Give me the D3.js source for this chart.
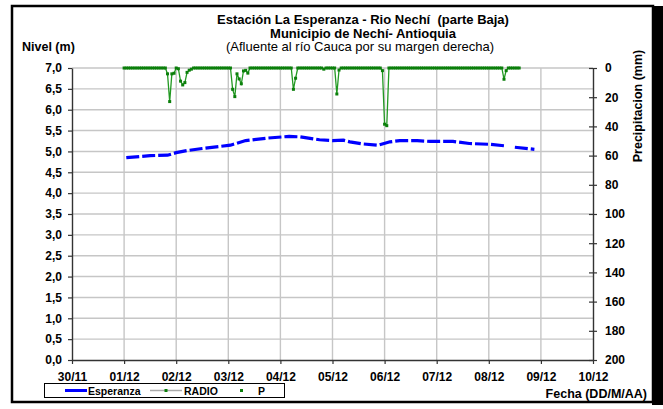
<!DOCTYPE html>
<html>
<head>
<meta charset="utf-8">
<script src="https://cdn.jsdelivr.net/npm/d3@7"></script>
<style>
  body { margin: 0; background: #fff; }
  svg text { font-family: "Liberation Sans", Arial, sans-serif; fill: #000; white-space: pre; }
</style>
</head>
<body>
<svg id="chart" width="663" height="409"></svg>
<script>
// hours are counted from 30/11 00:00
const dayLabels = ['30/11', '01/12', '02/12', '03/12', '04/12', '05/12', '06/12', '07/12', '08/12', '09/12', '10/12'];

// nivel Esperanza (m); null = hueco en la serie
const nivelHoras = [25, 36, 44, 48, 53, 60, 73, 80, 90, 100, 105, 114, 120, 125, 128, 134, 141, 146.5, 151, 159, 165, 175.5, 183, 192.5, 200, 202, 204, 213];
const nivelM = [4.85, 4.90, 4.91, 4.97, 5.02, 5.07, 5.15, 5.26, 5.32, 5.36, 5.35, 5.28, 5.26, 5.27, 5.23, 5.18, 5.15, 5.23, 5.26, 5.26, 5.24, 5.24, 5.19, 5.17, 5.13, null, 5.10, 5.05];

// precipitacion RADIO (mm), un valor por hora desde 01/12 00:00
const radioInicio = 24;
const radioMm = [
  0, 0, 0, 0, 0, 0, 0, 0, 0, 0, 0, 0, 0, 0, 0, 0, 0, 0, 0, 0, 4, 23, 4, 3.6,      // 01/12
  0, 0.5, 9, 11.6, 10, 3, 1.5, 0.8, 0, 0, 0, 0, 0, 0, 0, 0, 0, 0, 0, 0, 0, 0, 0, 0, // 02/12
  0, 0, 14.6, 19.6, 4, 7.5, 10.8, 2, 1.6, 3.5, 0, 0, 0, 0, 0, 0, 0, 0, 0, 0, 0, 0, 0, 0, // 03/12
  0, 0, 0, 0, 0, 0, 14.6, 7, 0, 0, 0, 0, 0, 0, 0, 0, 0, 0, 0, 0, 0.8, 0, 0, 0,    // 04/12
  0, 0, 17.8, 1.4, 0, 0, 0, 0, 0, 0, 0, 0, 0, 0, 0, 0, 0, 0, 0, 0, 0, 0, 0, 1.8,  // 05/12
  38.5, 39.5, 0, 0, 0, 0, 0, 0, 0, 0, 0, 0, 0, 0, 0, 0, 0, 0, 0, 0, 0, 0, 0, 0,   // 06/12
  0, 0, 0, 0, 0, 0, 0, 0, 0, 0, 0, 0, 0, 0, 0, 0, 0, 0, 0, 0, 0, 0, 0, 0,         // 07/12
  0, 0, 0, 0, 0, 0, 0, 7.7, 1.8, 0, 0, 0, 0, 0, 0                                 // 08/12
];

const nivelTicks = d3.range(0, 7.01, 0.5);
const precTicks = d3.range(0, 201, 20);

const svg = d3.select('#chart');

// marco con sombra
svg.append('rect').attr('x', 652).attr('y', 6).attr('width', 11).attr('height', 399).attr('fill', '#000');
svg.append('rect').attr('x', 12).attr('y', 6).attr('width', 641).attr('height', 396)
  .attr('fill', '#fff').attr('stroke', '#000').attr('stroke-width', 2.5);

const x = d3.scaleLinear().domain([0, 240]).range([72, 593]);
const yL = d3.scaleLinear().domain([0, 7]).range([360, 68]);
const yR = d3.scaleLinear().domain([0, 200]).range([68, 360]);

// grid
svg.append('g').selectAll('line').data(nivelTicks.slice(1)).enter().append('line')
  .attr('x1', 72).attr('x2', 593).attr('y1', d => yL(d)).attr('y2', d => yL(d))
  .attr('stroke', '#c6c6c6').attr('stroke-width', 1.4);
svg.append('g').selectAll('line').data(d3.range(1, 10)).enter().append('line')
  .attr('x1', d => x(d * 24)).attr('x2', d => x(d * 24)).attr('y1', 68).attr('y2', 360)
  .attr('stroke', '#c6c6c6').attr('stroke-width', 1.4);

// axes
const fmt = d => d3.format('.1f')(d).replace('.', ',');
const gL = svg.append('g').attr('transform', 'translate(72,0)')
  .call(d3.axisLeft(yL).tickValues(nivelTicks).tickFormat(fmt).tickSize(4).tickSizeOuter(0).tickPadding(6));
const gR = svg.append('g').attr('transform', 'translate(593,0)')
  .call(d3.axisRight(yR).tickValues(precTicks).tickSize(4).tickSizeOuter(0).tickPadding(8));
gR.selectAll('.tick line').attr('x1', -4).attr('x2', 4);
const gB = svg.append('g').attr('transform', 'translate(0,360)')
  .call(d3.axisBottom(x).tickValues(d3.range(0, 241, 24)).tickFormat((d, i) => dayLabels[i])
    .tickSize(4).tickSizeOuter(0).tickPadding(8));
[gL, gR, gB].forEach(g => {
  g.select('.domain').attr('stroke', '#333').attr('stroke-width', 1.4);
  g.selectAll('.tick line').attr('stroke', '#333').attr('stroke-width', 1.2);
  g.selectAll('text').attr('font-size', 12).attr('font-weight', 'bold')
    .attr('font-family', '"Liberation Sans", Arial, sans-serif').attr('fill', '#000');
});

// serie nivel
const nivelData = nivelHoras.map((h, i) => ({ h, v: nivelM[i] }));
svg.append('path').datum(nivelData)
  .attr('fill', 'none').attr('stroke', '#0000ff').attr('stroke-width', 3.2)
  .attr('stroke-dasharray', '13,3')
  .attr('d', d3.line().defined(d => d.v !== null).x(d => x(d.h)).y(d => yL(d.v)));

// serie RADIO
const radioData = radioMm.map((v, i) => ({ h: radioInicio + i, v }));
svg.append('path').datum(radioData)
  .attr('fill', 'none').attr('stroke', '#229922').attr('stroke-width', 1.3)
  .attr('d', d3.line().x(d => x(d.h)).y(d => yR(d.v)));
svg.append('g').selectAll('rect').data(radioData).enter().append('rect')
  .attr('x', d => x(d.h) - 1.5).attr('y', d => yR(d.v) - 1.5)
  .attr('width', 3).attr('height', 3).attr('fill', '#0b7f0b');

// titulos
const title = svg.append('g');
title.append('text').attr('x', 363).attr('y', 24).attr('text-anchor', 'middle')
  .attr('font-size', 13).attr('font-weight', 'bold').text('Estación La Esperanza - Rio Nechí  (parte Baja)');
title.append('text').attr('x', 363).attr('y', 37.5).attr('text-anchor', 'middle')
  .attr('font-size', 13).attr('font-weight', 'bold').text('Municipio de Nechí- Antioquia');
title.append('text').attr('x', 360).attr('y', 51).attr('text-anchor', 'middle')
  .attr('font-size', 13).text('(Afluente al río Cauca por su margen derecha)');
svg.append('text').attr('x', 22).attr('y', 51).attr('font-size', 12.5).attr('font-weight', 'bold').text('Nivel (m)');
svg.append('text').attr('transform', 'translate(642,106) rotate(-90)').attr('text-anchor', 'middle')
  .attr('font-size', 12.5).attr('font-weight', 'bold').text('Precipitacion (mm)');
svg.append('text').attr('x', 647).attr('y', 398).attr('text-anchor', 'end')
  .attr('font-size', 12.5).attr('font-weight', 'bold').text('Fecha (DD/M/AA)');

// leyenda
const leg = svg.append('g');
leg.append('rect').attr('x', 44.5).attr('y', 383.5).attr('width', 240).attr('height', 14)
  .attr('fill', '#fff').attr('stroke', '#000').attr('stroke-width', 1);
leg.append('line').attr('x1', 65).attr('x2', 87).attr('y1', 390.5).attr('y2', 390.5)
  .attr('stroke', '#0000ff').attr('stroke-width', 3);
leg.append('text').attr('x', 88).attr('y', 394.5).attr('font-size', 10.5).attr('font-weight', 'bold').text('Esperanza');
leg.append('line').attr('x1', 150).attr('x2', 182).attr('y1', 390.5).attr('y2', 390.5)
  .attr('stroke', '#aaa').attr('stroke-width', 1.5);
leg.append('rect').attr('x', 164.5).attr('y', 389).attr('width', 3).attr('height', 3).attr('fill', '#0b7f0b');
leg.append('text').attr('x', 184).attr('y', 394.5).attr('font-size', 10.5).attr('font-weight', 'bold').text('RADIO');
leg.append('rect').attr('x', 240).attr('y', 389).attr('width', 3).attr('height', 3).attr('fill', '#0b7f0b');
leg.append('text').attr('x', 258).attr('y', 394.5).attr('font-size', 10.5).attr('font-weight', 'bold').text('P');
</script>
</body>
</html>
